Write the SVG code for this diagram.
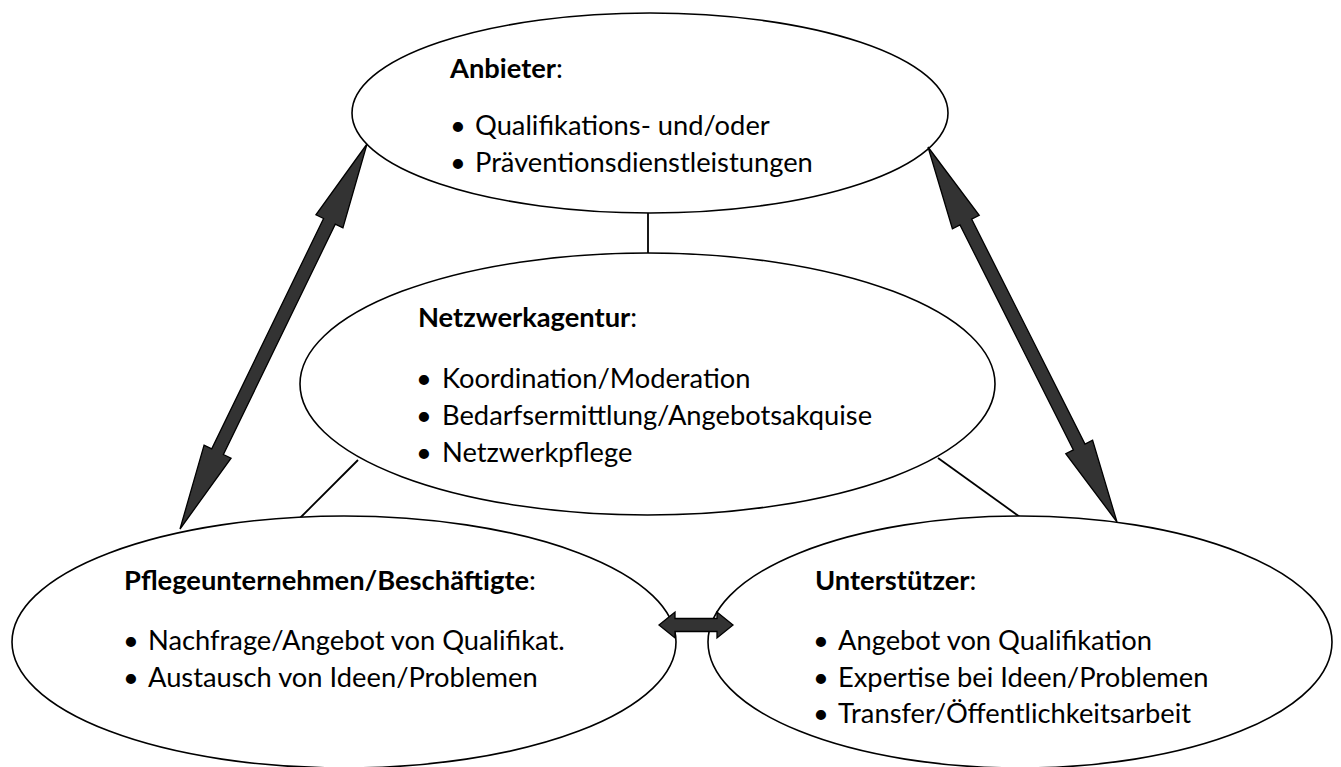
<svg xmlns="http://www.w3.org/2000/svg" width="1341" height="767" viewBox="0 0 1341 767">
<style>
.node ellipse{fill:#fff;stroke:#000;stroke-width:1.6}
.conn line{stroke:#000;stroke-width:1.8}
.arrow{fill:#333;stroke:#000;stroke-width:1.3;stroke-linejoin:miter}
text{font-family:Lato,"Liberation Sans",sans-serif;font-size:27.3px;fill:#000}
.b{font-weight:bold}
</style>
<rect width="1341" height="767" fill="#fff"/>
<g id="connectors" class="conn">
<line x1="648" y1="213" x2="648" y2="253"/>
<line x1="358" y1="460" x2="300" y2="518"/>
<line x1="938" y1="458" x2="1020" y2="517"/>
</g>
<g id="anbieter" class="node">
<ellipse cx="650" cy="113" rx="298" ry="100"/>
<text x="450" y="78"><tspan class="b">Anbieter</tspan>:</text>
<text x="450" y="135">•</text><text x="475" y="135">Qualifikations- und/oder</text>
<text x="450" y="172">•</text><text x="475" y="172">Präventionsdienstleistungen</text>
</g>
<g id="netzwerkagentur" class="node">
<ellipse cx="647.5" cy="384" rx="347.5" ry="131"/>
<text x="418" y="327"><tspan class="b">Netzwerkagentur</tspan>:</text>
<text x="416" y="388">•</text><text x="442" y="388">Koordination/Moderation</text>
<text x="416" y="425">•</text><text x="442" y="425">Bedarfsermittlung/Angebotsakquise</text>
<text x="416" y="462">•</text><text x="442" y="462">Netzwerkpflege</text>
</g>
<g id="pflegeunternehmen" class="node">
<ellipse cx="344" cy="642" rx="332" ry="126"/>
<text x="124" y="590"><tspan class="b">Pflegeunternehmen/Beschäftigte</tspan>:</text>
<text x="123" y="650">•</text><text x="148" y="650">Nachfrage/Angebot von Qualifikat.</text>
<text x="123" y="687">•</text><text x="148" y="687">Austausch von Ideen/Problemen</text>
</g>
<g id="unterstuetzer" class="node">
<ellipse cx="1020" cy="642" rx="312" ry="126"/>
<text x="815" y="590"><tspan class="b">Unterstützer</tspan>:</text>
<text x="813" y="650">•</text><text x="838" y="650">Angebot von Qualifikation</text>
<text x="813" y="687">•</text><text x="838" y="687">Expertise bei Ideen/Problemen</text>
<text x="813" y="723">•</text><text x="838" y="723">Transfer/Öffentlichkeitsarbeit</text>
</g>
<g id="arrows">
<polygon class="arrow" points="367,144 342.92,227.91 335.28,224.20 223.42,454.48 231.06,458.19 180,529 204.08,445.09 211.72,448.80 323.58,218.52 315.94,214.81"/>
<polygon class="arrow" points="928,147 979.21,215.27 971.62,219.09 1085,444.05 1092.59,440.23 1117,522 1065.79,453.73 1073.38,449.91 959.99,224.95 952.41,228.77"/>
<polygon class="arrow" points="659,625 675,612 675,618.5 717,618.5 717,612 733,625 717,638 717,631.5 675,631.5 675,638"/>
</g>
</svg>
